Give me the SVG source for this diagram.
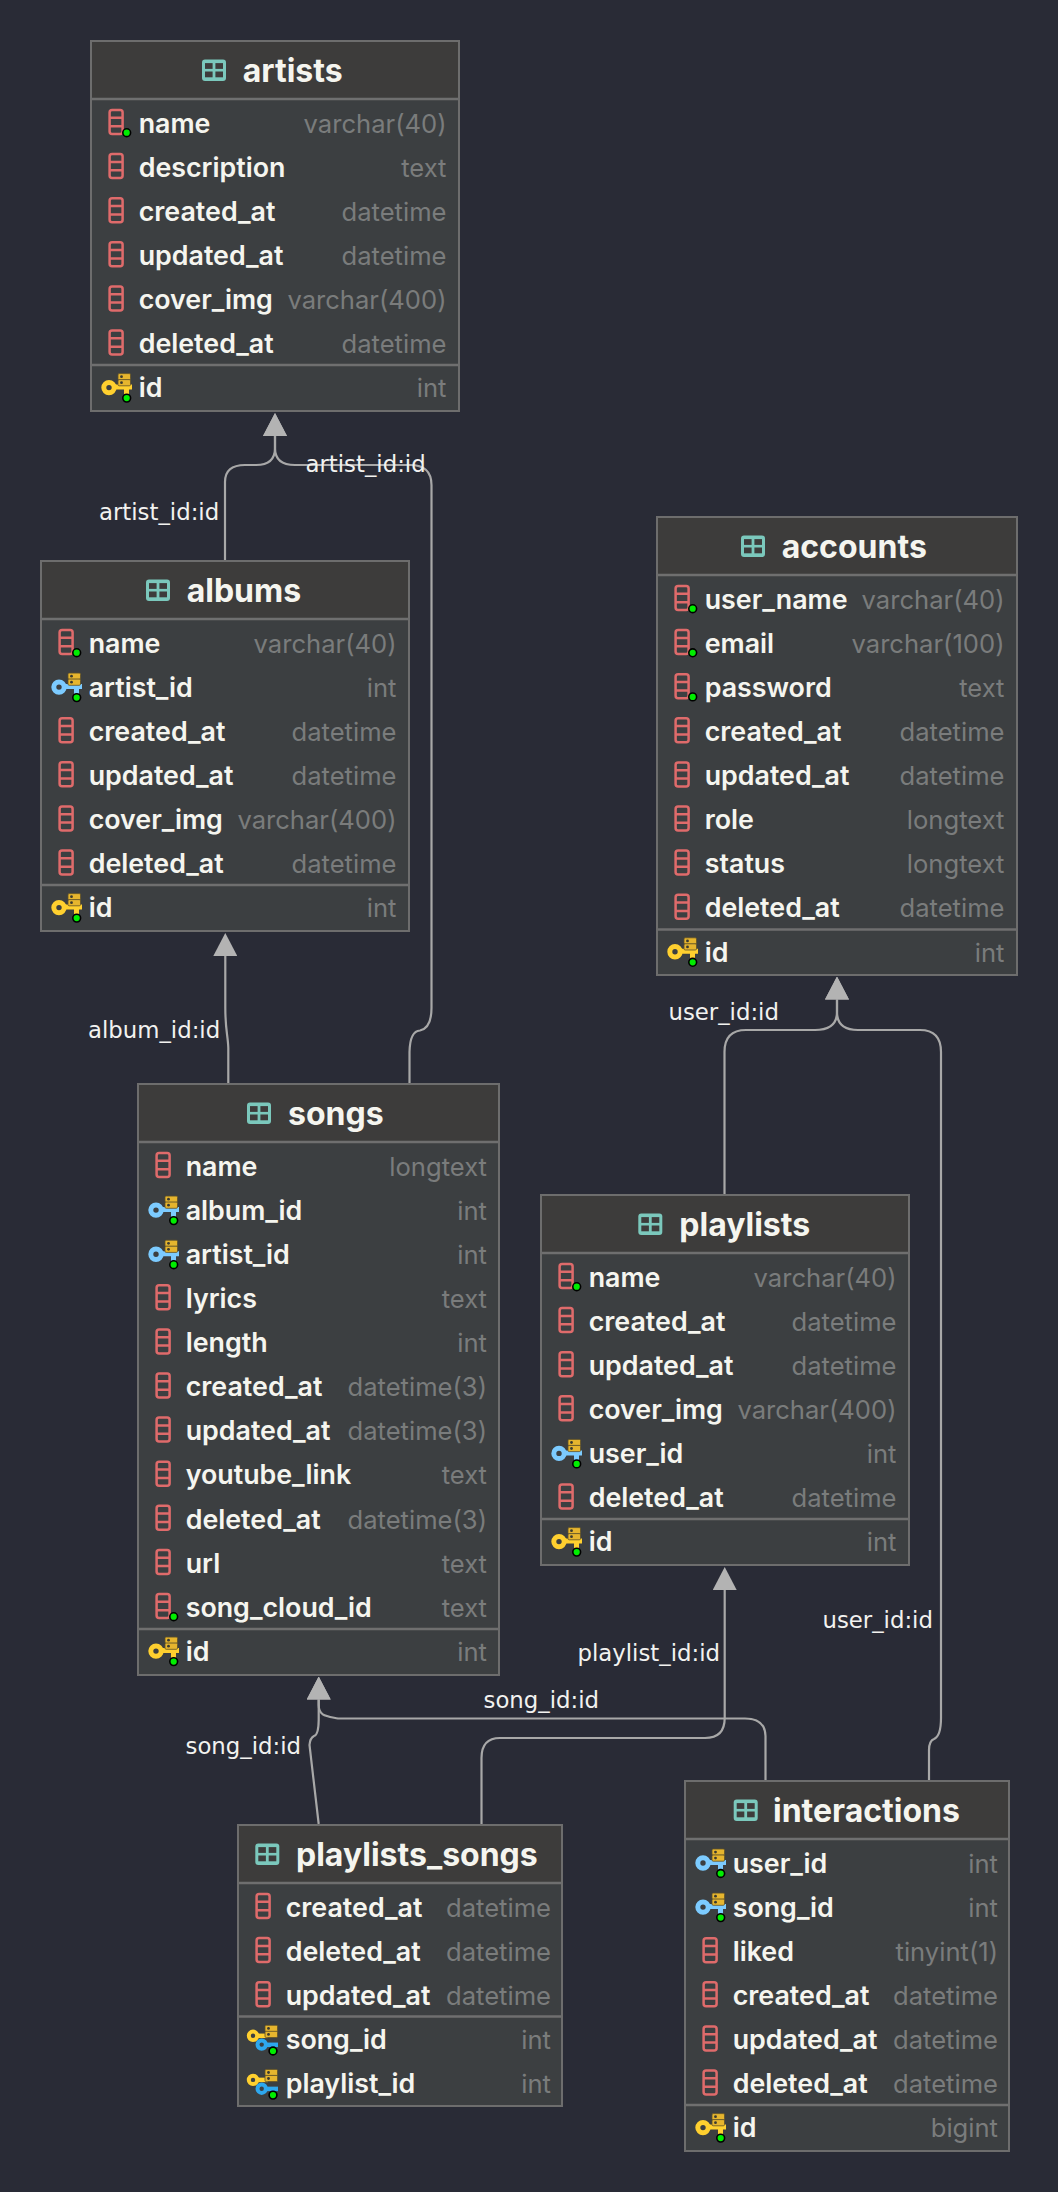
<svg xmlns="http://www.w3.org/2000/svg" xmlns:xlink="http://www.w3.org/1999/xlink" width="1058" height="2192" viewBox="0 0 1058 2192">
<style>
.box{fill:#3c3f41;stroke:#6d6d6d;stroke-width:2}
.hd{fill:#3d3c3b}
.sep{stroke:#6f6f6f;stroke-width:2.5}
.t{font-family:"Inter","Liberation Sans",sans-serif;font-weight:700;font-size:32px;fill:#f5f5ef;transform:translateY(.7px)}
.n{font-family:"Inter","Liberation Sans",sans-serif;font-weight:600;font-size:26.8px;fill:#f5f5ef;transform:translateY(.8px)}
.y{font-family:"Inter","Liberation Sans",sans-serif;font-weight:400;font-size:25.6px;fill:#7a7c7c;text-anchor:end;transform:translateY(.8px)}
.l{font-family:"DejaVu Sans","Liberation Sans",sans-serif;font-size:22.8px;fill:#f2f2f0}
.c{fill:none;stroke:#a8a8a8;stroke-width:2.2}
</style>
<defs>
<marker id="arrow" viewBox="0 0 23 24" refX="0" refY="12" markerWidth="23" markerHeight="24" markerUnits="userSpaceOnUse" orient="auto"><polygon points="0,0 23,12 0,24" fill="#b3b3b3"/></marker>
<g id="tbl"><rect x="0" y="0" width="24" height="21.5" rx="3" fill="#7bc8bc"/><rect x="3" y="3.6" width="7.6" height="5.8" fill="#3d3c3b"/><rect x="13.4" y="3.6" width="7.6" height="5.8" fill="#3d3c3b"/><rect x="3" y="12" width="7.6" height="5.8" fill="#3d3c3b"/><rect x="13.4" y="12" width="7.6" height="5.8" fill="#3d3c3b"/></g>
<g id="col" fill="none" stroke="#df6b6b" stroke-width="2.5"><rect x="18.6" y="-13" width="13" height="24" rx="2.5"/><path d="M18.6 -5.2H31.6M18.6 3.2H31.6"/></g>
<circle id="dot" r="3.9" fill="#00ee00" stroke="#000" stroke-width="1.6"/>
<g id="srv"><rect x="27" y="-14" width="12.5" height="6.2" rx="1.2" fill="#e6b52e" stroke="#5e5128" stroke-width="0.8"/><rect x="27" y="-8" width="12.5" height="6.2" rx="1.2" fill="#e6b52e" stroke="#5e5128" stroke-width="0.8"/><circle cx="30.5" cy="-10.9" r="1.4" fill="#3a3a30"/><circle cx="30.5" cy="-4.9" r="1.4" fill="#3a3a30"/></g>
<g id="fk"><path d="M24 -0.5H41M35.5 -0.5V7" fill="none" stroke="#7ccbff" stroke-width="5"/><circle cx="18" cy="0" r="5.2" fill="none" stroke="#7ccbff" stroke-width="5"/><use href="#srv"/><use href="#dot" x="35.7" y="10.5"/></g>
<g id="pk"><path d="M24 -0.5H41M35.5 -0.5V7" fill="none" stroke="#ffd02f" stroke-width="5"/><circle cx="18" cy="0" r="5.2" fill="none" stroke="#ffd02f" stroke-width="5"/><use href="#srv"/><use href="#dot" x="35.7" y="10.5"/></g>
<g id="pfk"><path d="M20 -3.5H30" fill="none" stroke="#ffd02f" stroke-width="4.5"/><circle cx="15" cy="-3.5" r="4.2" fill="none" stroke="#ffd02f" stroke-width="4"/><use href="#srv"/><path d="M29 5.5H40" fill="none" stroke="#2ea8ee" stroke-width="4.5"/><circle cx="23.7" cy="5.3" r="4.2" fill="none" stroke="#2ea8ee" stroke-width="4"/><use href="#dot" x="35" y="11.7"/></g>
</defs>
<rect width="1058" height="2192" fill="#292b36"/>
<g id="connectors">
<path class="c" marker-end="url(#arrow)" d="M225 561V482Q225 465 245 465H256Q275 465 275 448V436"/>
<path class="c" marker-end="url(#arrow)" d="M409.5 1084V1052Q410 1031 420 1030.5Q431.5 1028 431.5 1008V485Q431.5 465 410 465H295Q275 465 275 448V436"/>
<path class="c" marker-end="url(#arrow)" d="M228.3 1084V1048C228 1036 225.3 1030 225.3 1008V956"/>
<path class="c" marker-end="url(#arrow)" d="M724.5 1195V1052Q724.5 1030 746 1030H815Q837 1030 837 1012V999.5"/>
<path class="c" marker-end="url(#arrow)" d="M929 1780V1750Q929 1741 934 1739Q941 1736 941 1718V1052Q941 1030 920 1030H858Q837 1030 837 1012V999.5"/>
<path class="c" marker-end="url(#arrow)" d="M481.5 1824V1758Q481.5 1738 500 1738H705Q724.7 1738 724.7 1718V1590"/>
<path class="c" marker-end="url(#arrow)" d="M318.7 1824L309.5 1745Q310 1738 314 1736Q318.5 1735 318.7 1720V1699.5"/>
<path class="c" marker-end="url(#arrow)" d="M765.5 1780V1736Q765 1718.5 745 1718.5H338C326 1716 318.7 1716 318.7 1705V1699.5"/>
<text class="l" x="99" y="520">artist_id:id</text>
<text class="l" x="305.5" y="472">artist_id:id</text>
<text class="l" x="88" y="1038">album_id:id</text>
<text class="l" x="668.5" y="1020">user_id:id</text>
<text class="l" x="822.5" y="1628">user_id:id</text>
<text class="l" x="577.5" y="1660.5">playlist_id:id</text>
<text class="l" x="483.5" y="1708">song_id:id</text>
<text class="l" x="185.5" y="1754">song_id:id</text>
</g>
<g id="artists" transform="translate(91,41)">
<rect class="box" width="368" height="370"/><rect class="hd" x="1" y="1" width="366" height="57"/><line class="sep" x1="1" x2="367" y1="58" y2="58"/><line class="sep" x1="1" x2="367" y1="324" y2="324"/>
<use href="#tbl" x="111" y="18.5"/><text class="t" x="151.7" y="40">artists</text>
<use href="#col" y="82"/><use href="#dot" x="35.7" y="91.7"/><text class="n" x="47.7" y="91">name</text><text class="y" x="355.5" y="91">varchar(40)</text>
<use href="#col" y="126.1"/><text class="n" x="47.7" y="135.1">description</text><text class="y" x="355.5" y="135.1">text</text>
<use href="#col" y="170.2"/><text class="n" x="47.7" y="179.2">created_at</text><text class="y" x="355.5" y="179.2">datetime</text>
<use href="#col" y="214.3"/><text class="n" x="47.7" y="223.3">updated_at</text><text class="y" x="355.5" y="223.3">datetime</text>
<use href="#col" y="258.4"/><text class="n" x="47.7" y="267.4">cover_img</text><text class="y" x="355.5" y="267.4">varchar(400)</text>
<use href="#col" y="302.5"/><text class="n" x="47.7" y="311.5">deleted_at</text><text class="y" x="355.5" y="311.5">datetime</text>
<use href="#pk" y="346.6"/><text class="n" x="47.7" y="355.6">id</text><text class="y" x="355.5" y="355.6">int</text>
</g>
<g id="albums" transform="translate(41,561)">
<rect class="box" width="368" height="370"/><rect class="hd" x="1" y="1" width="366" height="57"/><line class="sep" x1="1" x2="367" y1="58" y2="58"/><line class="sep" x1="1" x2="367" y1="324" y2="324"/>
<use href="#tbl" x="105" y="18.5"/><text class="t" x="145.7" y="40">albums</text>
<use href="#col" y="82"/><use href="#dot" x="35.7" y="91.7"/><text class="n" x="47.7" y="91">name</text><text class="y" x="355.5" y="91">varchar(40)</text>
<use href="#fk" y="126.1"/><text class="n" x="47.7" y="135.1">artist_id</text><text class="y" x="355.5" y="135.1">int</text>
<use href="#col" y="170.2"/><text class="n" x="47.7" y="179.2">created_at</text><text class="y" x="355.5" y="179.2">datetime</text>
<use href="#col" y="214.3"/><text class="n" x="47.7" y="223.3">updated_at</text><text class="y" x="355.5" y="223.3">datetime</text>
<use href="#col" y="258.4"/><text class="n" x="47.7" y="267.4">cover_img</text><text class="y" x="355.5" y="267.4">varchar(400)</text>
<use href="#col" y="302.5"/><text class="n" x="47.7" y="311.5">deleted_at</text><text class="y" x="355.5" y="311.5">datetime</text>
<use href="#pk" y="346.6"/><text class="n" x="47.7" y="355.6">id</text><text class="y" x="355.5" y="355.6">int</text>
</g>
<g id="accounts" transform="translate(657,517)">
<rect class="box" width="360" height="458"/><rect class="hd" x="1" y="1" width="358" height="57"/><line class="sep" x1="1" x2="359" y1="58" y2="58"/><line class="sep" x1="1" x2="359" y1="412.5" y2="412.5"/>
<use href="#tbl" x="84" y="18.5"/><text class="t" x="124.7" y="40">accounts</text>
<use href="#col" y="82"/><use href="#dot" x="35.7" y="91.7"/><text class="n" x="47.7" y="91">user_name</text><text class="y" x="347.5" y="91">varchar(40)</text>
<use href="#col" y="126.1"/><use href="#dot" x="35.7" y="135.8"/><text class="n" x="47.7" y="135.1">email</text><text class="y" x="347.5" y="135.1">varchar(100)</text>
<use href="#col" y="170.2"/><use href="#dot" x="35.7" y="179.9"/><text class="n" x="47.7" y="179.2">password</text><text class="y" x="347.5" y="179.2">text</text>
<use href="#col" y="214.3"/><text class="n" x="47.7" y="223.3">created_at</text><text class="y" x="347.5" y="223.3">datetime</text>
<use href="#col" y="258.4"/><text class="n" x="47.7" y="267.4">updated_at</text><text class="y" x="347.5" y="267.4">datetime</text>
<use href="#col" y="302.5"/><text class="n" x="47.7" y="311.5">role</text><text class="y" x="347.5" y="311.5">longtext</text>
<use href="#col" y="346.6"/><text class="n" x="47.7" y="355.6">status</text><text class="y" x="347.5" y="355.6">longtext</text>
<use href="#col" y="390.7"/><text class="n" x="47.7" y="399.7">deleted_at</text><text class="y" x="347.5" y="399.7">datetime</text>
<use href="#pk" y="434.8"/><text class="n" x="47.7" y="443.8">id</text><text class="y" x="347.5" y="443.8">int</text>
</g>
<g id="songs" transform="translate(138,1084)">
<rect class="box" width="361" height="591"/><rect class="hd" x="1" y="1" width="359" height="57"/><line class="sep" x1="1" x2="360" y1="58" y2="58"/><line class="sep" x1="1" x2="360" y1="545" y2="545"/>
<use href="#tbl" x="109" y="18.5"/><text class="t" x="150" y="40.5">songs</text>
<use href="#col" y="82"/><text class="n" x="47.7" y="91">name</text><text class="y" x="349" y="91">longtext</text>
<use href="#fk" y="126.1"/><text class="n" x="47.7" y="135.1">album_id</text><text class="y" x="349" y="135.1">int</text>
<use href="#fk" y="170.2"/><text class="n" x="47.7" y="179.2">artist_id</text><text class="y" x="349" y="179.2">int</text>
<use href="#col" y="214.3"/><text class="n" x="47.7" y="223.3">lyrics</text><text class="y" x="349" y="223.3">text</text>
<use href="#col" y="258.4"/><text class="n" x="47.7" y="267.4">length</text><text class="y" x="349" y="267.4">int</text>
<use href="#col" y="302.5"/><text class="n" x="47.7" y="311.5">created_at</text><text class="y" x="349" y="311.5">datetime(3)</text>
<use href="#col" y="346.6"/><text class="n" x="47.7" y="355.6">updated_at</text><text class="y" x="349" y="355.6">datetime(3)</text>
<use href="#col" y="390.7"/><text class="n" x="47.7" y="399.7">youtube_link</text><text class="y" x="349" y="399.7">text</text>
<use href="#col" y="434.8"/><text class="n" x="47.7" y="443.8">deleted_at</text><text class="y" x="349" y="443.8">datetime(3)</text>
<use href="#col" y="478.9"/><text class="n" x="47.7" y="487.9">url</text><text class="y" x="349" y="487.9">text</text>
<use href="#col" y="523"/><use href="#dot" x="35.7" y="532.7"/><text class="n" x="47.7" y="532">song_cloud_id</text><text class="y" x="349" y="532">text</text>
<use href="#pk" y="567.1"/><text class="n" x="47.7" y="576.1">id</text><text class="y" x="349" y="576.1">int</text>
</g>
<g id="playlists" transform="translate(541,1195)">
<rect class="box" width="368" height="370"/><rect class="hd" x="1" y="1" width="366" height="57"/><line class="sep" x1="1" x2="367" y1="58" y2="58"/><line class="sep" x1="1" x2="367" y1="324" y2="324"/>
<use href="#tbl" x="97.3" y="18.5"/><text class="t" x="138.3" y="40">playlists</text>
<use href="#col" y="82"/><use href="#dot" x="35.7" y="91.7"/><text class="n" x="47.7" y="91">name</text><text class="y" x="355.5" y="91">varchar(40)</text>
<use href="#col" y="126.1"/><text class="n" x="47.7" y="135.1">created_at</text><text class="y" x="355.5" y="135.1">datetime</text>
<use href="#col" y="170.2"/><text class="n" x="47.7" y="179.2">updated_at</text><text class="y" x="355.5" y="179.2">datetime</text>
<use href="#col" y="214.3"/><text class="n" x="47.7" y="223.3">cover_img</text><text class="y" x="355.5" y="223.3">varchar(400)</text>
<use href="#fk" y="258.4"/><text class="n" x="47.7" y="267.4">user_id</text><text class="y" x="355.5" y="267.4">int</text>
<use href="#col" y="302.5"/><text class="n" x="47.7" y="311.5">deleted_at</text><text class="y" x="355.5" y="311.5">datetime</text>
<use href="#pk" y="346.6"/><text class="n" x="47.7" y="355.6">id</text><text class="y" x="355.5" y="355.6">int</text>
</g>
<g id="playlists_songs" transform="translate(238,1825)">
<rect class="box" width="324" height="281"/><rect class="hd" x="1" y="1" width="322" height="57"/><line class="sep" x1="1" x2="323" y1="58" y2="58"/><line class="sep" x1="1" x2="323" y1="191.5" y2="191.5"/>
<use href="#tbl" x="17.3" y="18.5"/><text class="t" x="58" y="40">playlists_songs</text>
<use href="#col" y="82"/><text class="n" x="47.7" y="91">created_at</text><text class="y" x="313" y="91">datetime</text>
<use href="#col" y="126.1"/><text class="n" x="47.7" y="135.1">deleted_at</text><text class="y" x="313" y="135.1">datetime</text>
<use href="#col" y="170.2"/><text class="n" x="47.7" y="179.2">updated_at</text><text class="y" x="313" y="179.2">datetime</text>
<use href="#pfk" y="214.3"/><text class="n" x="47.7" y="223.3">song_id</text><text class="y" x="313" y="223.3">int</text>
<use href="#pfk" y="258.4"/><text class="n" x="47.7" y="267.4">playlist_id</text><text class="y" x="313" y="267.4">int</text>
</g>
<g id="interactions" transform="translate(685,1781)">
<rect class="box" width="324" height="370"/><rect class="hd" x="1" y="1" width="322" height="57"/><line class="sep" x1="1" x2="323" y1="58" y2="58"/><line class="sep" x1="1" x2="323" y1="324" y2="324"/>
<use href="#tbl" x="48.7" y="18.5"/><text class="t" x="88" y="40">interactions</text>
<use href="#fk" y="82"/><text class="n" x="47.7" y="91">user_id</text><text class="y" x="313" y="91">int</text>
<use href="#fk" y="126.1"/><text class="n" x="47.7" y="135.1">song_id</text><text class="y" x="313" y="135.1">int</text>
<use href="#col" y="170.2"/><text class="n" x="47.7" y="179.2">liked</text><text class="y" x="313" y="179.2">tinyint(1)</text>
<use href="#col" y="214.3"/><text class="n" x="47.7" y="223.3">created_at</text><text class="y" x="313" y="223.3">datetime</text>
<use href="#col" y="258.4"/><text class="n" x="47.7" y="267.4">updated_at</text><text class="y" x="313" y="267.4">datetime</text>
<use href="#col" y="302.5"/><text class="n" x="47.7" y="311.5">deleted_at</text><text class="y" x="313" y="311.5">datetime</text>
<use href="#pk" y="346.6"/><text class="n" x="47.7" y="355.6">id</text><text class="y" x="313" y="355.6">bigint</text>
</g>
</svg>
